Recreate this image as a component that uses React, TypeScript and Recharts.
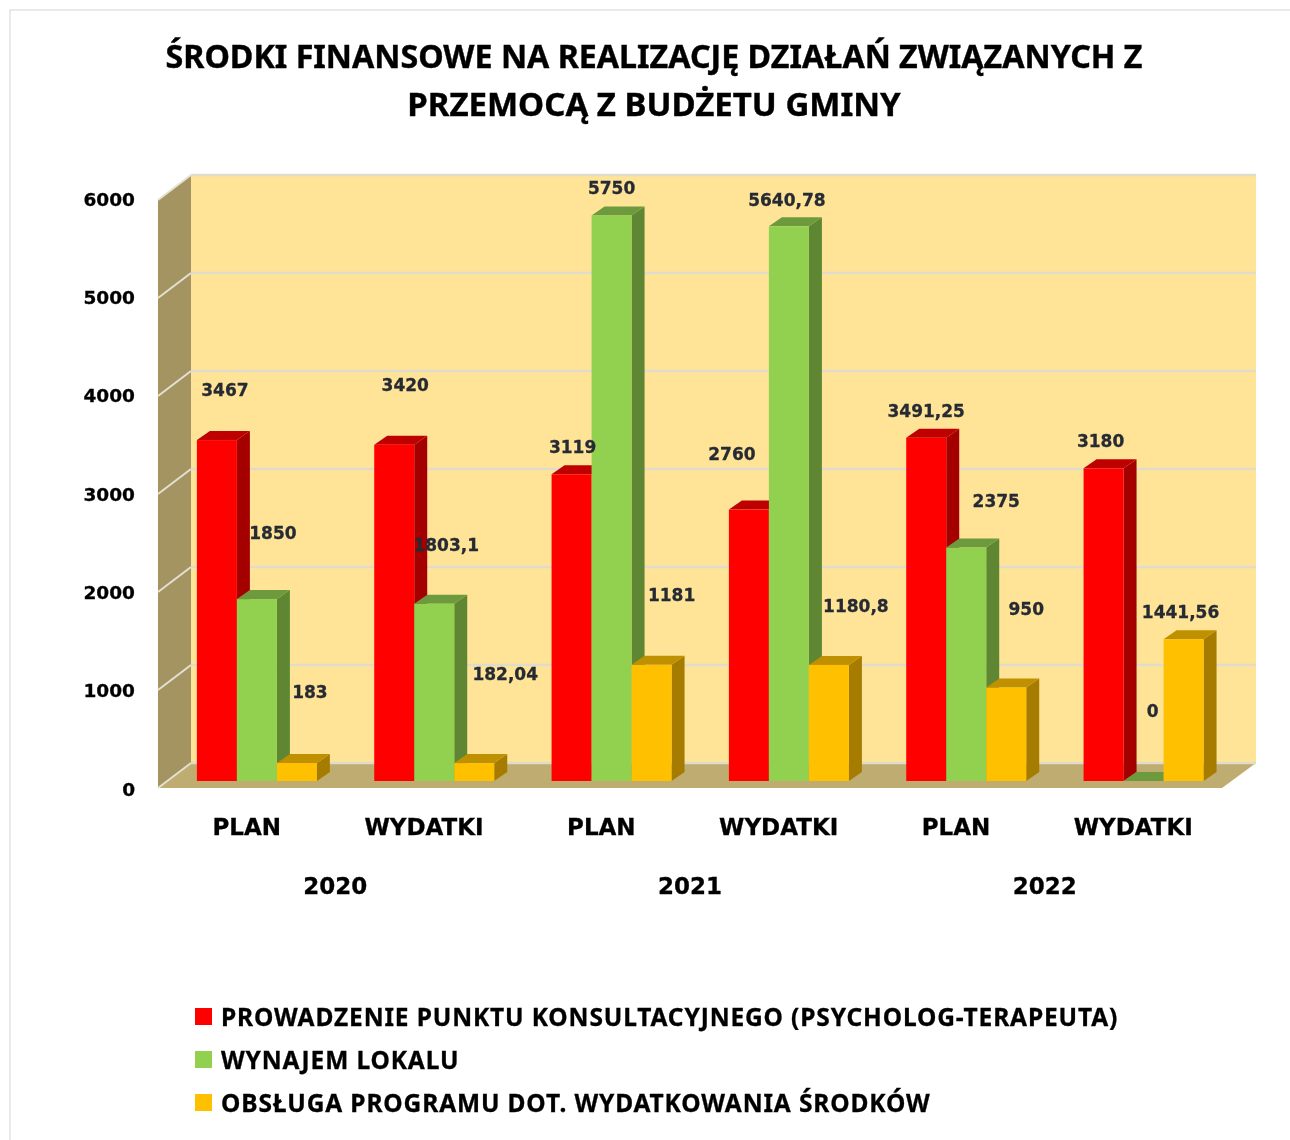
import React from "react";
import { BarChart, Bar, XAxis, YAxis, CartesianGrid, Legend, LabelList } from "recharts";

const categories = ["PLAN", "WYDATKI", "PLAN", "WYDATKI", "PLAN", "WYDATKI"];
const years = ["2020", "2020", "2021", "2021", "2022", "2022"];
const consultation = [3467, 3420, 3119, 2760, 3491.25, 3180];
const rental = [1850, 1803.1, 5750, 5640.78, 2375, 0];
const software = [183, 182.04, 1181, 1180.8, 950, 1441.56];
const yTicks = [0, 1000, 2000, 3000, 4000, 5000, 6000];
const titleLines = [
  "ŚRODKI FINANSOWE NA REALIZACJĘ DZIAŁAŃ ZWIĄZANYCH Z",
  "PRZEMOCĄ Z BUDŻETU GMINY",
];
const seriesNames = [
  "PROWADZENIE PUNKTU KONSULTACYJNEGO (PSYCHOLOG-TERAPEUTA)",
  "WYNAJEM LOKALU",
  "OBSŁUGA PROGRAMU DOT. WYDATKOWANIA ŚRODKÓW",
];

const tableData = categories.map((category, i) => ({
  category: `${category}-${i}`,
  label: category,
  year: years[i],
  consultation: consultation[i],
  rental: rental[i],
  software: software[i],
}));

// hand-placed data label offsets from each bar's top centre, as in the source chart
const consultationShift = [[8, -50], [11, -60], [1, -27], [-17, -56], [0, -27], [-3, -27]];
const rentalShift = [[16, -66], [12, -59], [0, -28], [-2, -26], [30, -46], [9, -70]];
const softwareShift = [[13, -71], [31, -89], [20, -70], [27, -59], [20, -79], [-3, -27]];

const W = 1290;
const H = 1140;
const PLOT = { left: 158, right: 1222, top: 191, bottom: 781 };
const DEPTH_X = 13;
const DEPTH_Y = 9;
const BAR_SHIFT = 9.5;
const WALL_X = 33;
const WALL_Y = 25;
const FLOOR_BACK = 763;
const backY = (y: number) => FLOOR_BACK - ((PLOT.bottom - y) * 588) / 590;
const FONT = "'DejaVu Sans', sans-serif";
const TITLE_FONT = "'Noto Sans', sans-serif";

const Bar3D = (props: any) => {
  const { x, y, width, height, fill, sideFill, topFill } = props;
  const l = x + BAR_SHIFT;
  const r = l + width;
  const b = y + height;
  return (
    <g>
      <polygon points={`${r},${y} ${r + DEPTH_X},${y - DEPTH_Y} ${r + DEPTH_X},${b - DEPTH_Y} ${r},${b}`} fill={sideFill} />
      <polygon points={`${l},${y} ${l + DEPTH_X},${y - DEPTH_Y} ${r + DEPTH_X},${y - DEPTH_Y} ${r},${y}`} fill={topFill} />
      <rect x={l} y={y} width={width} height={height} fill={fill} />
    </g>
  );
};

const makeLabel = (shifts: number[][]) => (props: any) => {
  const { x, y, width, value, index } = props;
  const [dx, dy] = shifts[index];
  return (
    <text
      x={x + width / 2 + BAR_SHIFT + dx}
      y={y + dy}
      textAnchor="middle"
      dominantBaseline="central"
      fontFamily={FONT}
      fontWeight={700}
      fontSize={17}
      stroke="#262a33"
      strokeWidth={0.3}
      fill="#262a33"
    >
      {String(value).replace(".", ",")}
    </text>
  );
};

const GridLine = (props: any) => {
  const by = backY(props.y1);
  const fy = by + WALL_Y;
  return (
    <g>
      <line x1={PLOT.left} y1={fy} x2={PLOT.left + WALL_X} y2={by} stroke="#e4e0d2" strokeWidth={2} />
      <line x1={PLOT.left + WALL_X} y1={by} x2={PLOT.right + WALL_X + 1} y2={by} stroke="#e0dccb" strokeWidth={2.5} />
    </g>
  );
};

const LegendBox = (props: any) => {
  const items = [...props.payload].sort((a: any, b: any) => seriesNames.indexOf(a.value) - seriesNames.indexOf(b.value));
  return (
    <div style={{ fontFamily: TITLE_FONT, fontWeight: 700, fontSize: 24.5, letterSpacing: 0.87, color: "#000", WebkitTextStroke: "0.3px #000" }}>
      {items.map((p: any) => (
        <div key={p.value} style={{ display: "flex", alignItems: "center", height: 43, whiteSpace: "nowrap" }}>
          <span style={{ width: 17, height: 17, background: p.color, marginRight: 9, flex: "none" }} />
          <span>{p.value}</span>
        </div>
      ))}
    </div>
  );
};

const Backdrop = () => {
  const top = backY(PLOT.top);
  return (
    <svg width={W} height={H} style={{ position: "absolute", left: 0, top: 0 }}>
      <rect x={10} y={10} width={W} height={H} fill="#fff" stroke="#e3e3e3" strokeWidth={1.5} />
      {titleLines.map((line, i) => (
        <text key={line} x={654} y={55 + i * 48} textAnchor="middle" dominantBaseline="central" fontFamily={TITLE_FONT} fontWeight={700} fontSize={i === 0 ? 32.2 : 33} stroke="#000" strokeWidth={0.4} fill="#000">
          {line}
        </text>
      ))}
      <polygon
        points={`${PLOT.left},${top + WALL_Y} ${PLOT.left + WALL_X},${top} ${PLOT.left + WALL_X},${FLOOR_BACK} ${PLOT.left},${FLOOR_BACK + WALL_Y}`}
        fill="#a49462"
      />
      <rect x={PLOT.left + WALL_X} y={top} width={PLOT.right - PLOT.left + 1} height={FLOOR_BACK - top} fill="#ffe497" />
      <polygon
        points={`${PLOT.left},${FLOOR_BACK + WALL_Y} ${PLOT.left + WALL_X},${FLOOR_BACK} ${PLOT.right + WALL_X + 1},${FLOOR_BACK} ${PLOT.right},${FLOOR_BACK + WALL_Y}`}
        fill="#bfac70"
      />
    </svg>
  );
};

export default function App() {
  return (
    <div style={{ position: "absolute", left: 0, top: 0, width: W, height: H, overflow: "hidden", background: "#fff", filter: "blur(0.4px)" }}>
      <Backdrop />
      <BarChart
        width={W}
        height={H}
        data={tableData}
        barCategoryGap={29.4}
        barGap={0}
        margin={{ top: PLOT.top, left: PLOT.left - 100, right: W - PLOT.right, bottom: H - PLOT.bottom - 120 }}
      >
        <CartesianGrid vertical={false} horizontal={(p: any) => <GridLine key={p.key ?? p.y1} {...p} />} />
        <XAxis dataKey="category" tickFormatter={(_: string, i: number) => categories[i]} interval={0} height={60} axisLine={false} tickLine={false} tickSize={0} tickMargin={38} tick={{ fontFamily: FONT, fontWeight: 700, fontSize: 23, fill: "#000", stroke: "#000", strokeWidth: 0.3 }} />
        <XAxis xAxisId="year" dataKey="year" allowDuplicatedCategory={false} interval={0} height={60} axisLine={false} tickLine={false} tickSize={0} tickMargin={37} tick={{ fontFamily: FONT, fontWeight: 700, fontSize: 23, fill: "#000", stroke: "#000", strokeWidth: 0.3 }} />
        <YAxis width={100} domain={[0, 6000]} ticks={yTicks} axisLine={false} tickLine={false} tickSize={0} tickMargin={23} interval={0} tick={{ fontFamily: FONT, fontWeight: 700, fontSize: 18.5, fill: "#000", stroke: "#000", strokeWidth: 0.3, dy: 8 }} />
        <Legend layout="vertical" align="center" verticalAlign="middle" content={LegendBox} wrapperStyle={{ position: "absolute", left: 195, top: 995, width: 1050 }} />
        <Bar dataKey="consultation" name={seriesNames[0]} fill="#ff0000" isAnimationActive={false} shape={(p: any) => <Bar3D {...p} fill="#ff0000" sideFill="#a50000" topFill="#bf0000" />}>
          <LabelList dataKey="consultation" content={makeLabel(consultationShift)} />
        </Bar>
        <Bar dataKey="rental" name={seriesNames[1]} fill="#92d050" isAnimationActive={false} shape={(p: any) => <Bar3D {...p} fill="#92d050" sideFill="#5f8632" topFill="#6c9a3c" />}>
          <LabelList dataKey="rental" content={makeLabel(rentalShift)} />
        </Bar>
        <Bar dataKey="software" name={seriesNames[2]} fill="#ffc000" isAnimationActive={false} shape={(p: any) => <Bar3D {...p} fill="#ffc000" sideFill="#a67c00" topFill="#bf9000" />}>
          <LabelList dataKey="software" content={makeLabel(softwareShift)} />
        </Bar>
      </BarChart>
    </div>
  );
}
